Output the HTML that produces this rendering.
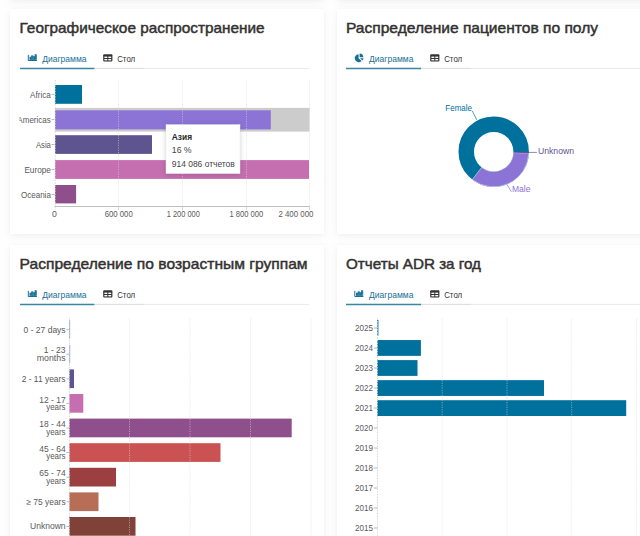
<!DOCTYPE html>
<html lang="ru">
<head>
<meta charset="utf-8">
<title>Dashboard</title>
<style>
html,body{margin:0;padding:0;}
body{width:640px;height:536px;overflow:hidden;background:#fefefe;font-family:"Liberation Sans",sans-serif;position:relative;}
.card{position:absolute;background:#fff;box-shadow:0 2px 8px rgba(0,0,0,0.055),0 0 2px rgba(0,0,0,0.03);}
#c0a{left:10px;top:-40px;width:314px;height:40px;}
#c0b{left:337px;top:-40px;width:320px;height:40px;}
#c1{left:10px;top:9px;width:314px;height:224.5px;}
#c2{left:337px;top:9px;width:320px;height:224.5px;}
#c3{left:10px;top:245px;width:314px;height:320px;}
#c4{left:337px;top:245px;width:320px;height:320px;}
svg{position:absolute;left:0;top:0;}
text{font-family:"Liberation Sans",sans-serif;}
.t{font-size:14.6px;font-weight:400;fill:#323130;stroke:#323130;stroke-width:0.45px;}
.ax{font-size:8.7px;fill:#5a5a5a;}
.tab{font-size:8.6px;}
</style>
</head>
<body>
<div class="card" id="c0a"></div>
<div class="card" id="c0b"></div>
<div class="card" id="c1"></div>
<div class="card" id="c2"></div>
<div class="card" id="c3"></div>
<div class="card" id="c4"></div>
<svg width="640" height="536" viewBox="0 0 640 536">
<defs>
<g id="ibar"><path d="M0.5 0.3v5.6h8.6" fill="none" stroke-width="1"/><rect x="2.2" y="2.6" width="1.1" height="2.1"/><rect x="3.9" y="1.3" width="1.1" height="3.4"/><rect x="5.6" y="2.2" width="1.1" height="2.5"/><rect x="7.3" y="0.2" width="1.1" height="4.5"/></g>
<g id="itab"><rect x="0" y="0" width="9.2" height="7.2" rx="0.9" /><rect x="1.2" y="2.3" width="2.9" height="1.4" fill="#fff"/><rect x="5.1" y="2.3" width="2.9" height="1.4" fill="#fff"/><rect x="1.2" y="4.7" width="2.9" height="1.4" fill="#fff"/><rect x="5.1" y="4.7" width="2.9" height="1.4" fill="#fff"/></g>
</defs>

<!-- CARD 1 -->
<text class="t" x="19.6" y="33.3" textLength="245" lengthAdjust="spacingAndGlyphs">Географическое распространение</text>
<line x1="20" y1="68.4" x2="309" y2="68.4" stroke="#e9e9e9" stroke-width="1"/><line x1="94" y1="68.4" x2="144" y2="68.4" stroke="#dedede" stroke-width="1"/>
<line x1="20" y1="68.4" x2="94.3" y2="68.4" stroke="#3b87a3" stroke-width="1.5"/>
<use href="#ibar" x="27.8" y="54.6" fill="#1a6f94" stroke="#1a6f94"/>
<text class="tab" x="42.2" y="61.8" fill="#1a6f94" textLength="44.4" lengthAdjust="spacingAndGlyphs">Диаграмма</text>
<use href="#itab" x="103.2" y="54.3" fill="#333"/>
<text class="tab" x="117.2" y="61.8" fill="#333" textLength="18" lengthAdjust="spacingAndGlyphs">Стол</text>

<!-- chart 1 -->
<rect x="55" y="107.9" width="254.6" height="23.7" fill="#cccccc"/>
<rect x="55" y="85" width="27" height="18.8" fill="#00709c"/>
<rect x="55" y="110.3" width="215.8" height="19.1" fill="#8b74d6"/>
<rect x="55" y="135.2" width="97" height="18.7" fill="#5e5590"/>
<rect x="55" y="160.1" width="254" height="18.8" fill="#c56fb0"/>
<rect x="55" y="185" width="21.1" height="18.4" fill="#8f4f8c"/>
<g stroke="#d8d8d8" stroke-opacity="0.6" stroke-width="0.9" stroke-dasharray="1.2,1.2">
<line x1="118.5" y1="80" x2="118.5" y2="207"/><line x1="182.5" y1="80" x2="182.5" y2="207"/><line x1="246.5" y1="80" x2="246.5" y2="207"/><line x1="309.5" y1="80" x2="309.5" y2="207"/>
</g>
<line x1="55.2" y1="80" x2="55.2" y2="210" stroke="#d4d4d4" stroke-width="0.9" stroke-dasharray="1.5,1.2"/>
<line x1="54.7" y1="206.5" x2="310" y2="206.5" stroke="#b8b8b8" stroke-width="0.9"/>
<g stroke="#a8a8a8" stroke-width="0.8">
<line x1="51.6" y1="94.5" x2="54.5" y2="94.5"/><line x1="51.6" y1="119.5" x2="54.5" y2="119.5"/><line x1="51.6" y1="144.5" x2="54.5" y2="144.5"/><line x1="51.6" y1="169.5" x2="54.5" y2="169.5"/><line x1="51.6" y1="194.5" x2="54.5" y2="194.5"/>
</g>
<g stroke="#ccc" stroke-width="0.8">
<line x1="118.5" y1="206" x2="118.5" y2="210"/><line x1="182.5" y1="206" x2="182.5" y2="210"/><line x1="246.5" y1="206" x2="246.5" y2="210"/><line x1="309.5" y1="206" x2="309.5" y2="210"/>
</g>
<clipPath id="clipL"><rect x="19.3" y="80" width="40" height="130"/></clipPath>
<g class="ax" text-anchor="end" clip-path="url(#clipL)">
<text x="50.9" y="97.6" textLength="20.8" lengthAdjust="spacingAndGlyphs">Africa</text>
<text x="50.9" y="122.6" textLength="33.6" lengthAdjust="spacingAndGlyphs">Americas</text>
<text x="50.9" y="147.6" textLength="15" lengthAdjust="spacingAndGlyphs">Asia</text>
<text x="50.9" y="172.6" textLength="26.5" lengthAdjust="spacingAndGlyphs">Europe</text>
<text x="50.9" y="197.6" textLength="30" lengthAdjust="spacingAndGlyphs">Oceania</text>
</g>
<g class="ax" text-anchor="middle" lengthAdjust="spacingAndGlyphs">
<text x="54.5" y="216.9">0</text>
<text x="118.7" y="216.9" textLength="28" lengthAdjust="spacingAndGlyphs">600 000</text>
<text x="183.3" y="216.9" textLength="33" lengthAdjust="spacingAndGlyphs">1 200 000</text>
<text x="246.3" y="216.9" textLength="33.7" lengthAdjust="spacingAndGlyphs">1 800 000</text>
<text x="295.9" y="216.9" textLength="35" lengthAdjust="spacingAndGlyphs">2 400 000</text>
</g>
<!-- tooltip -->
<rect x="166" y="124.6" width="74" height="49" fill="#fff" stroke="#e8e8e8" stroke-width="0.5" style="filter:drop-shadow(0 1px 2.5px rgba(0,0,0,0.16))"/>
<text x="171.8" y="140" font-size="8.8" font-weight="700" fill="#2b2b2b" textLength="20.3" lengthAdjust="spacingAndGlyphs">Азия</text>
<text x="171.8" y="153.4" font-size="8.7" fill="#444">16 %</text>
<text x="171.8" y="166.6" font-size="8.7" fill="#444" textLength="63" lengthAdjust="spacingAndGlyphs">914 086 отчетов</text>

<!-- CARD 2 -->
<text class="t" x="346" y="33.3" textLength="252" lengthAdjust="spacingAndGlyphs">Распределение пациентов по полу</text>
<line x1="346" y1="68.4" x2="640" y2="68.4" stroke="#e9e9e9" stroke-width="1"/><line x1="421" y1="68.4" x2="471" y2="68.4" stroke="#dedede" stroke-width="1"/>
<line x1="346" y1="68.4" x2="421" y2="68.4" stroke="#3b87a3" stroke-width="1.5"/>
<g fill="#1a6f94"><path d="M358.6 58.2 L358.6 54.2 A4 4 0 1 0 361.6 61 Z"/><path d="M359.6 53.6 A4 4 0 0 1 363.4 57.3 L359.6 57.3 Z"/><path d="M360 58.3 L363.5 58.3 A4 4 0 0 1 362.4 60.6 Z"/></g>
<text class="tab" x="369" y="61.8" fill="#1a6f94" textLength="44.4" lengthAdjust="spacingAndGlyphs">Диаграмма</text>
<use href="#itab" x="430.2" y="54.3" fill="#333"/>
<text class="tab" x="444.2" y="61.8" fill="#333" textLength="18" lengthAdjust="spacingAndGlyphs">Стол</text>

<!-- donut -->
<g transform="translate(493.7,151.7)">
<circle r="27.450000000000003" fill="none" stroke="#00709c" stroke-width="15.500000000000004"/>
<path d="M35.17 1.47 A35.2 35.2 0 0 1 -21.43 27.93 L-11.99 15.63 A19.7 19.7 0 0 0 19.68 0.82 Z" fill="#8b74d6" stroke="#fff" stroke-width="0.5"/>
<path d="M35.20 0.00 A35.2 35.2 0 0 1 35.17 1.47 L19.68 0.82 A19.7 19.7 0 0 0 19.70 0.00 Z" fill="#5e5590"/>
</g>
<path d="M472.3 111 L476.8 119.8" stroke="#00709c" stroke-width="0.7" fill="none"/>
<path d="M528.5 152.4 L537 152.4" stroke="#5e5590" stroke-width="0.7" fill="none"/>
<path d="M507 184.7 L511.5 191.8" stroke="#8b74d6" stroke-width="0.7" fill="none"/>
<text x="445.3" y="111.4" font-size="9.3" fill="#00709c" textLength="26.7" lengthAdjust="spacingAndGlyphs">Female</text>
<text x="538" y="153.8" font-size="9.3" fill="#5e5590" textLength="36" lengthAdjust="spacingAndGlyphs">Unknown</text>
<text x="512" y="192.3" font-size="9.3" fill="#8b74d6" textLength="18.5" lengthAdjust="spacingAndGlyphs">Male</text>

<!-- CARD 3 -->
<text class="t" x="19.6" y="269.3" textLength="288" lengthAdjust="spacingAndGlyphs">Распределение по возрастным группам</text>
<line x1="20" y1="304.4" x2="309" y2="304.4" stroke="#e9e9e9" stroke-width="1"/><line x1="94" y1="304.4" x2="144" y2="304.4" stroke="#dedede" stroke-width="1"/>
<line x1="20" y1="304.4" x2="94.3" y2="304.4" stroke="#3b87a3" stroke-width="1.5"/>
<use href="#ibar" x="27.8" y="290.6" fill="#1a6f94" stroke="#1a6f94"/>
<text class="tab" x="42.2" y="297.8" fill="#1a6f94" textLength="44.4" lengthAdjust="spacingAndGlyphs">Диаграмма</text>
<use href="#itab" x="103.2" y="290.3" fill="#333"/>
<text class="tab" x="117.2" y="297.8" fill="#333" textLength="18" lengthAdjust="spacingAndGlyphs">Стол</text>

<!-- chart 3 -->
<rect x="69.3" y="320.2" width="0.8" height="18.7" fill="#6d8fa8"/>
<rect x="69.3" y="344.8" width="0.9" height="18.7" fill="#9a8bd0"/>
<rect x="69.3" y="369.4" width="4.7" height="18.7" fill="#5e5590"/>
<rect x="69.3" y="394.0" width="14.0" height="18.7" fill="#c56fb0"/>
<rect x="69.3" y="418.6" width="222.39999999999998" height="18.7" fill="#8f4f8c"/>
<rect x="69.3" y="443.2" width="151.2" height="18.7" fill="#cb5252"/>
<rect x="69.3" y="467.8" width="46.7" height="18.7" fill="#9c3f41"/>
<rect x="69.3" y="492.4" width="29.2" height="18.7" fill="#b86d57"/>
<rect x="69.3" y="517.0" width="66.2" height="18.7" fill="#7f4138"/>
<g stroke="#d8d8d8" stroke-opacity="0.6" stroke-width="0.9" stroke-dasharray="1.2,1.2">
<line x1="129.5" y1="318" x2="129.5" y2="536"/><line x1="190" y1="318" x2="190" y2="536"/><line x1="250.5" y1="318" x2="250.5" y2="536"/><line x1="311" y1="318" x2="311" y2="536"/>
</g>
<line x1="69.4" y1="318.4" x2="69.4" y2="536" stroke="#d0d0d4" stroke-width="0.9" stroke-dasharray="1.5,1.2"/>
<g stroke="#a8a8a8" stroke-width="0.8">
<line x1="66.4" y1="329.6" x2="69.4" y2="329.6"/><line x1="66.4" y1="354.2" x2="69.4" y2="354.2"/><line x1="66.4" y1="378.8" x2="69.4" y2="378.8"/><line x1="66.4" y1="403.4" x2="69.4" y2="403.4"/><line x1="66.4" y1="428.0" x2="69.4" y2="428.0"/><line x1="66.4" y1="452.6" x2="69.4" y2="452.6"/><line x1="66.4" y1="477.2" x2="69.4" y2="477.2"/><line x1="66.4" y1="501.8" x2="69.4" y2="501.8"/><line x1="66.4" y1="526.4" x2="69.4" y2="526.4"/>
</g>
<g class="ax" text-anchor="end">
<text x="65.6" y="332.6" textLength="42" lengthAdjust="spacingAndGlyphs">0 - 27 days</text>
<text x="65.6" y="353.3" textLength="21.8" lengthAdjust="spacingAndGlyphs">1 - 23</text><text x="65.6" y="360.9" textLength="28.8" lengthAdjust="spacingAndGlyphs">months</text>
<text x="65.6" y="381.8" textLength="43.9" lengthAdjust="spacingAndGlyphs">2 - 11 years</text>
<text x="65.6" y="402.5" textLength="26.3" lengthAdjust="spacingAndGlyphs">12 - 17</text><text x="65.6" y="410.1" textLength="19.4" lengthAdjust="spacingAndGlyphs">years</text>
<text x="65.6" y="427.1" textLength="26.3" lengthAdjust="spacingAndGlyphs">18 - 44</text><text x="65.6" y="434.7" textLength="19.4" lengthAdjust="spacingAndGlyphs">years</text>
<text x="65.6" y="451.7" textLength="26.3" lengthAdjust="spacingAndGlyphs">45 - 64</text><text x="65.6" y="459.3" textLength="19.4" lengthAdjust="spacingAndGlyphs">years</text>
<text x="65.6" y="476.3" textLength="26.3" lengthAdjust="spacingAndGlyphs">65 - 74</text><text x="65.6" y="483.9" textLength="19.4" lengthAdjust="spacingAndGlyphs">years</text>
<text x="65.6" y="504.8" textLength="39.2" lengthAdjust="spacingAndGlyphs">≥ 75 years</text>
<text x="65.6" y="529.4" textLength="35.6" lengthAdjust="spacingAndGlyphs">Unknown</text>
</g>

<!-- CARD 4 -->
<text class="t" x="346" y="269.3" textLength="135" lengthAdjust="spacingAndGlyphs">Отчеты ADR за год</text>
<line x1="346" y1="304.4" x2="640" y2="304.4" stroke="#e9e9e9" stroke-width="1"/><line x1="421" y1="304.4" x2="471" y2="304.4" stroke="#dedede" stroke-width="1"/>
<line x1="346" y1="304.4" x2="421" y2="304.4" stroke="#3b87a3" stroke-width="1.5"/>
<use href="#ibar" x="354.3" y="290.6" fill="#1a6f94" stroke="#1a6f94"/>
<text class="tab" x="369" y="297.8" fill="#1a6f94" textLength="44.4" lengthAdjust="spacingAndGlyphs">Диаграмма</text>
<use href="#itab" x="430.2" y="290.3" fill="#333"/>
<text class="tab" x="444.2" y="297.8" fill="#333" textLength="18" lengthAdjust="spacingAndGlyphs">Стол</text>

<!-- chart 4 -->
<rect x="377.2" y="320.00" width="1.2" height="15.8" fill="#00709c"/>
<rect x="377.2" y="340.05" width="43.7" height="15.8" fill="#00709c"/>
<rect x="377.2" y="360.10" width="40.3" height="15.8" fill="#00709c"/>
<rect x="377.2" y="380.15" width="166.8" height="15.8" fill="#00709c"/>
<rect x="377.2" y="400.20" width="249" height="15.8" fill="#00709c"/>
<g stroke="#d8d8d8" stroke-opacity="0.6" stroke-width="0.9" stroke-dasharray="1.2,1.2">
<line x1="442.2" y1="318" x2="442.2" y2="536"/><line x1="507" y1="318" x2="507" y2="536"/><line x1="571.7" y1="318" x2="571.7" y2="536"/><line x1="636.5" y1="318" x2="636.5" y2="536"/>
</g>
<line x1="377.5" y1="318.4" x2="377.5" y2="536" stroke="#d4d4d4" stroke-width="0.9" stroke-dasharray="1.5,1.2"/>
<g stroke="#a8a8a8" stroke-width="0.8">
<line x1="373.8" y1="328.0" x2="377.4" y2="328.0"/><line x1="373.8" y1="348.0" x2="377.4" y2="348.0"/><line x1="373.8" y1="368.0" x2="377.4" y2="368.0"/><line x1="373.8" y1="388.0" x2="377.4" y2="388.0"/><line x1="373.8" y1="408.0" x2="377.4" y2="408.0"/><line x1="373.8" y1="428.0" x2="377.4" y2="428.0"/><line x1="373.8" y1="448.0" x2="377.4" y2="448.0"/><line x1="373.8" y1="468.0" x2="377.4" y2="468.0"/><line x1="373.8" y1="488.0" x2="377.4" y2="488.0"/><line x1="373.8" y1="508.0" x2="377.4" y2="508.0"/><line x1="373.8" y1="528.0" x2="377.4" y2="528.0"/>
</g>
<g class="ax" text-anchor="end">
<text x="373" y="330.8" textLength="17.9" lengthAdjust="spacingAndGlyphs">2025</text><text x="373" y="350.8" textLength="17.9" lengthAdjust="spacingAndGlyphs">2024</text><text x="373" y="370.8" textLength="17.9" lengthAdjust="spacingAndGlyphs">2023</text><text x="373" y="390.8" textLength="17.9" lengthAdjust="spacingAndGlyphs">2022</text><text x="373" y="410.8" textLength="17.9" lengthAdjust="spacingAndGlyphs">2021</text><text x="373" y="430.8" textLength="17.9" lengthAdjust="spacingAndGlyphs">2020</text><text x="373" y="450.8" textLength="17.9" lengthAdjust="spacingAndGlyphs">2019</text><text x="373" y="470.8" textLength="17.9" lengthAdjust="spacingAndGlyphs">2018</text><text x="373" y="490.8" textLength="17.9" lengthAdjust="spacingAndGlyphs">2017</text><text x="373" y="510.8" textLength="17.9" lengthAdjust="spacingAndGlyphs">2016</text><text x="373" y="530.8" textLength="17.9" lengthAdjust="spacingAndGlyphs">2015</text>
</g>
</svg>
</body>
</html>
